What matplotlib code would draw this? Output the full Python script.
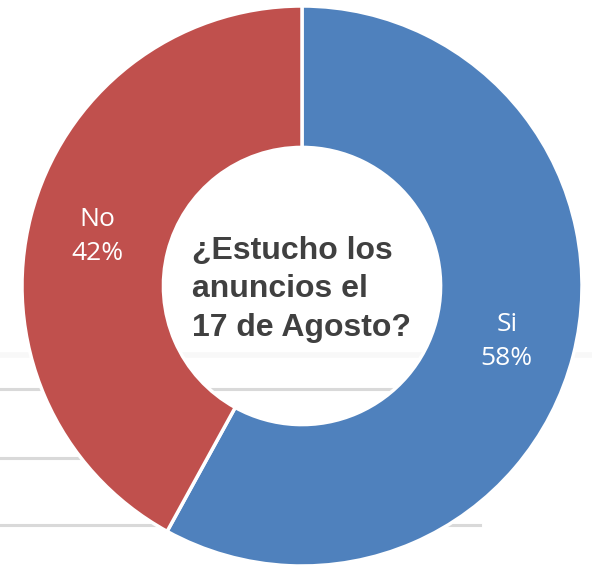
import matplotlib
matplotlib.use("Agg")
import matplotlib.pyplot as plt
from matplotlib.lines import Line2D
import numpy as np

labels = ["Si", "No"]
shares = [58, 42]
colors = ["#4F81BD", "#C0504D"]
title = "¿Estucho los\nanuncios el\n17 de Agosto?"

W, H = 592, 568
fig = plt.figure(figsize=(W / 100, H / 100), dpi=100)

# faint gray rules from the slide behind the chart
for y, x1, a, lw in [(355, 592, 0.18, 4), (389, 400, 1.0, 2.2), (458, 500, 1.0, 2.2), (525, 480, 1.0, 2.2)]:
    fig.add_artist(Line2D([0, x1 / W], [1 - y / H, 1 - y / H], color="#D9D9D9",
                          lw=lw, alpha=a, zorder=-1))

cx, cy, r = 302, 286, 280
ax = fig.add_axes([(cx - r) / W, 1 - (cy + r) / H, 2 * r / W, 2 * r / H])
ax.patch.set_visible(False)

wedges, _ = ax.pie(shares, colors=colors, startangle=90, counterclock=False,
                   radius=1.0, wedgeprops=dict(width=0.505, edgecolor="white", linewidth=2.5))
ax.set_xlim(-1, 1)
ax.set_ylim(-1, 1)
ax.set_aspect("equal")
ax.axis("off")

for w, lab, s in zip(wedges, labels, shares):
    ang = np.deg2rad((w.theta1 + w.theta2) / 2)
    rr = 0.755
    ax.text(rr * np.cos(ang), rr * np.sin(ang) - 0.01, f"{lab}\n{s}%", ha="center", va="center",
            color="white", fontsize=19, family="Open Sans", linespacing=1.45)

ax.text(0, -0.012, title, ha="center", va="center", multialignment="left",
        fontsize=23, fontweight="bold", family="Liberation Sans", color="#404040",
        linespacing=1.37)

fig.savefig("out.png", dpi=100)
